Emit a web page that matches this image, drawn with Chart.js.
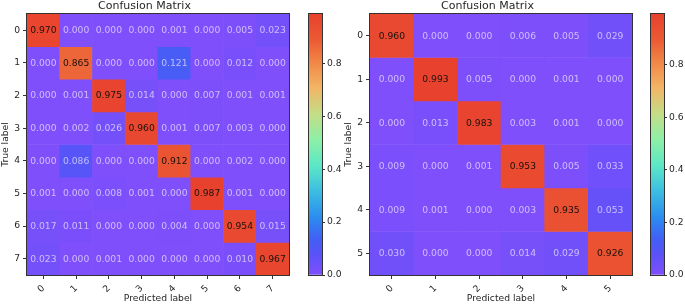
<!DOCTYPE html>
<html><head><meta charset="utf-8">
<script src="https://cdn.jsdelivr.net/npm/chart.js@4"></script>
<style>
html,body{margin:0;padding:0;background:#fff;}
#wrap{position:relative;width:685px;height:304px;overflow:hidden;}
.box{position:absolute;top:0;height:304px;}
</style></head><body>
<div id="wrap">
<div class="box" style="left:0;width:295px"><canvas id="hmL"></canvas></div>
<div class="box" style="left:300px;width:50px"><canvas id="cbL"></canvas></div>
<div class="box" style="left:343px;width:295px"><canvas id="hmR"></canvas></div>
<div class="box" style="left:642px;width:43px"><canvas id="cbR"></canvas></div>
</div>
<script>
// ---- data ----
const titleText = 'Confusion Matrix';
const xTitle = 'Predicted label';
const yTitle = 'True label';

const leftLabels = ['0', '1', '2', '3', '4', '5', '6', '7'];
const leftMatrix = [
  [0.970, 0.000, 0.000, 0.000, 0.001, 0.000, 0.005, 0.023],
  [0.000, 0.865, 0.000, 0.000, 0.121, 0.000, 0.012, 0.000],
  [0.000, 0.001, 0.975, 0.014, 0.000, 0.007, 0.001, 0.001],
  [0.000, 0.002, 0.026, 0.960, 0.001, 0.007, 0.003, 0.000],
  [0.000, 0.086, 0.000, 0.000, 0.912, 0.000, 0.002, 0.000],
  [0.001, 0.000, 0.008, 0.001, 0.000, 0.987, 0.001, 0.000],
  [0.017, 0.011, 0.000, 0.000, 0.004, 0.000, 0.954, 0.015],
  [0.023, 0.000, 0.001, 0.000, 0.000, 0.000, 0.010, 0.967]
];

const rightLabels = ['0', '1', '2', '3', '4', '5'];
const rightMatrix = [
  [0.960, 0.000, 0.000, 0.006, 0.005, 0.029],
  [0.000, 0.993, 0.005, 0.000, 0.001, 0.000],
  [0.000, 0.013, 0.983, 0.003, 0.001, 0.000],
  [0.009, 0.000, 0.001, 0.953, 0.005, 0.033],
  [0.009, 0.001, 0.000, 0.003, 0.935, 0.053],
  [0.030, 0.000, 0.000, 0.014, 0.029, 0.926]
];

const colorbarTicks = [0.0, 0.2, 0.4, 0.6, 0.8];

// ---- style ----
const FONT = "'DejaVu Sans', sans-serif";
const TXT = '#262626';
const cmapPos =    [0.00,      0.08,      0.14,      0.22,      0.32,      0.42,      0.52,      0.62,      0.72,      0.82,      0.90,      1.00];
const cmapColors = ['#7f4ffb', '#5a52f8', '#4160f5', '#2b8cef', '#3cbde2', '#5ce8c6', '#8ef0a6', '#c6dc86', '#f3b464', '#f08444', '#ec5a34', '#e8412e'];

function hex2rgb(h) { return [1, 3, 5].map(i => parseInt(h.slice(i, i + 2), 16)); }
function cmap(t) {
  t = Math.max(0, Math.min(1, t));
  for (let i = 1; i < cmapPos.length; i++) {
    if (t <= cmapPos[i]) {
      const f = (t - cmapPos[i - 1]) / (cmapPos[i] - cmapPos[i - 1]);
      const a = hex2rgb(cmapColors[i - 1]), b = hex2rgb(cmapColors[i]);
      const c = a.map((v, k) => Math.round(v + (b[k] - v) * f));
      return `rgb(${c[0]},${c[1]},${c[2]})`;
    }
  }
  return cmapColors[cmapColors.length - 1];
}

function maxOf(m) { return Math.max(...m.map(r => Math.max(...r))); }

const framePlugin = {
  id: 'frame',
  afterDraw(chart) {
    const {ctx, chartArea: a} = chart;
    ctx.save();
    ctx.strokeStyle = '#333';
    ctx.lineWidth = 1;
    ctx.strokeRect(Math.round(a.left) - 0.5, Math.round(a.top) - 0.5,
      Math.round(a.right - a.left) + 1, Math.round(a.bottom - a.top) + 1);
    ctx.restore();
  }
};

const annotPlugin = {
  id: 'annot',
  afterDatasetsDraw(chart, args, opts) {
    const ctx = chart.ctx;
    ctx.save();
    ctx.font = `9.2px ${FONT}`;
    ctx.textAlign = 'center';
    ctx.textBaseline = 'middle';
    chart.data.datasets.forEach((ds, di) => {
      const meta = chart.getDatasetMeta(di);
      meta.data.forEach((el, j) => {
        const v = ds.values[j];
        ctx.fillStyle = v > opts.vmax / 2 ? '#1a120c' : 'rgba(255,255,255,0.62)';
        ctx.fillText(v.toFixed(3), el.x, (el.y + el.base) / 2 + 0.5);
      });
    });
    ctx.restore();
  }
};

function heatmap(id, labels, matrix) {
  const vmax = maxOf(matrix);
  const datasets = matrix.map((row, r) => ({
    data: row.map(() => [r - 0.5, r + 0.5]),
    values: row,
    backgroundColor: row.map(v => cmap(v / vmax)),
    borderWidth: 0,
    barPercentage: 1,
    categoryPercentage: 1,
    grouped: false
  }));
  new Chart(document.getElementById(id), {
    type: 'bar',
    data: {labels, datasets},
    plugins: [annotPlugin, framePlugin],
    options: {
      responsive: true, maintainAspectRatio: false, animation: false,
      layout: {padding: {left: 0, right: 6, top: 0, bottom: 0}},
      plugins: {
        legend: {display: false},
        tooltip: {enabled: false},
        annot: {vmax},
        title: {display: true, text: titleText, color: TXT,
          font: {family: FONT, size: 11, weight: 'normal', lineHeight: '12px'},
          padding: {top: 0, bottom: 2}}
      },
      scales: {
        x: {
          type: 'category', offset: true,
          grid: {display: true, offset: false, drawOnChartArea: false, drawTicks: true, tickLength: 4, color: '#333'},
          border: {display: false},
          ticks: {color: TXT, font: {family: FONT, size: 9.2}, minRotation: 45, maxRotation: 45, autoSkip: false, padding: 4},
          title: {display: true, text: xTitle, color: TXT, font: {family: FONT, size: 9.2}, padding: 0},
          afterFit: s => { s.height = 29; s.paddingLeft = 0; s.paddingRight = 0; }
        },
        y: {
          type: 'linear', reverse: true, min: -0.5, max: labels.length - 0.5,
          afterBuildTicks: s => { s.ticks = labels.map((_, i) => ({value: i})); },
          grid: {display: true, drawOnChartArea: false, drawTicks: true, tickLength: 4, color: '#333'},
          border: {display: false},
          ticks: {color: TXT, font: {family: FONT, size: 9.2}, padding: 3, callback: v => labels[v]},
          title: {display: true, text: yTitle, color: TXT, font: {family: FONT, size: 9.2}, padding: 0},
          afterFit: s => { s.width = 27; s.paddingTop = 0; s.paddingBottom = 0; }
        }
      }
    }
  });
}

function colorbar(id, matrix, axisWidth) {
  const vmax = maxOf(matrix);
  new Chart(document.getElementById(id), {
    type: 'bar',
    data: {labels: ['cb'], datasets: [{
      data: [[0, vmax]],
      borderWidth: 0, barPercentage: 1, categoryPercentage: 1,
      backgroundColor: (c) => {
        const ch = c.chart;
        if (!ch.chartArea || !ch.scales.y) return cmap(0);
        const y0 = ch.scales.y.getPixelForValue(0), y1 = ch.scales.y.getPixelForValue(vmax);
        const g = ch.ctx.createLinearGradient(0, y0, 0, y1);
        cmapPos.forEach((p, i) => g.addColorStop(p, cmapColors[i]));
        return g;
      }
    }]},
    plugins: [framePlugin],
    options: {
      responsive: true, maintainAspectRatio: false, animation: false,
      layout: {padding: {left: 9, right: 0, top: 14, bottom: 29}},
      plugins: {legend: {display: false}, tooltip: {enabled: false}},
      scales: {
        x: {display: false},
        y: {
          position: 'right', min: 0, max: vmax,
          afterBuildTicks: s => { s.ticks = colorbarTicks.map(v => ({value: v})); },
          grid: {display: true, drawOnChartArea: false, drawTicks: true, tickLength: 3, color: '#333'},
          border: {display: false},
          ticks: {color: TXT, font: {family: FONT, size: 9.2}, padding: 2, callback: v => v.toFixed(1)},
          afterFit: s => { s.width = axisWidth; s.paddingTop = 0; s.paddingBottom = 0; }
        }
      }
    }
  });
}

heatmap('hmL', leftLabels, leftMatrix);
colorbar('cbL', leftMatrix, 28);
heatmap('hmR', rightLabels, rightMatrix);
colorbar('cbR', rightMatrix, 21);
</script>
</body></html>
